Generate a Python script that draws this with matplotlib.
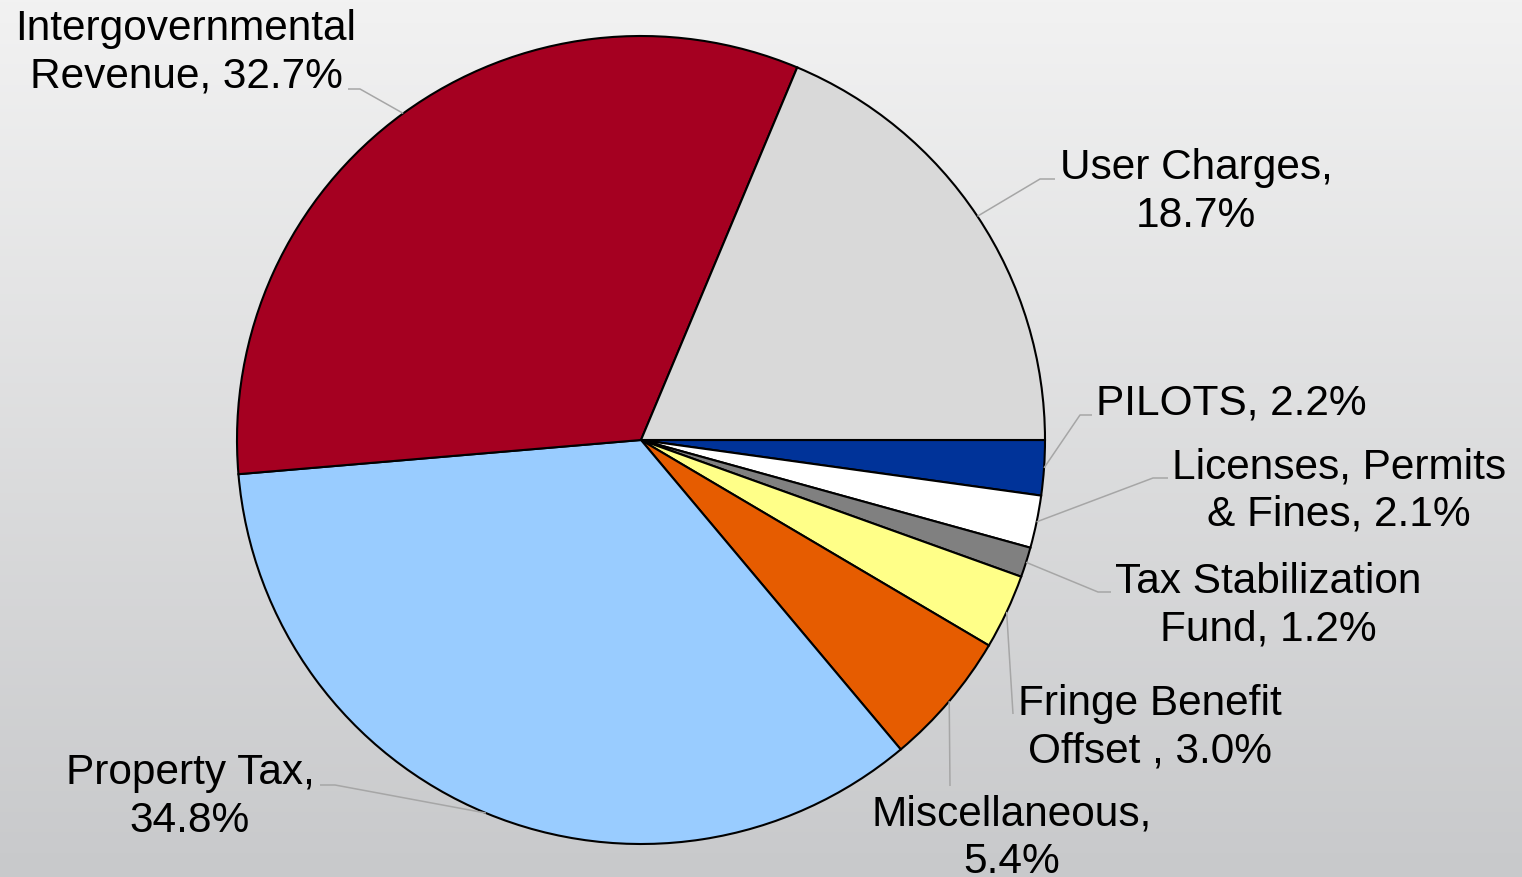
import numpy as np
import matplotlib
matplotlib.use("Agg")
import matplotlib.pyplot as plt

# ---- data ----
categories = ["PILOTS", "Licenses, Permits & Fines", "Tax Stabilization Fund",
              "Fringe Benefit Offset", "Miscellaneous", "Property Tax",
              "Intergovernmental Revenue", "User Charges"]
values = [2.2, 2.1, 1.2, 3.0, 5.4, 34.8, 32.7, 18.7]
label_texts = ["PILOTS, 2.2%", "Licenses, Permits\n& Fines, 2.1%",
               "Tax Stabilization\nFund, 1.2%", "Fringe Benefit\nOffset , 3.0%",
               "Miscellaneous,\n5.4%", "Property Tax,\n34.8%",
               "Intergovernmental\nRevenue, 32.7%", "User Charges,\n18.7%"]
colors = ["#003399", "#FFFFFF", "#808080", "#FFFF88", "#E65C00",
          "#99CCFF", "#A50021", "#D9D9D9"]

# ---- layout (pixel coordinates, y from top) ----
W, H = 1522, 878
label_pos = [(1231, 404), (1339, 491), (1268, 606), (1150, 728),
             (1012, 838), (190, 797), (186, 53), (1196, 192)]
elbows = [[(1080, 416), (1092, 416)],
          [(1153, 479), (1168, 479)],
          [(1098, 593), (1111, 593)],
          [(1013, 715)],
          [(950, 787)],
          [(335, 786), (320, 786)],
          [(360, 90), (348, 90)],
          [(1040, 180), (1055, 180)]]
cx, cy, R = 641, 441, 404

def fy(y):
    return H - y

plt.rcParams['font.family'] = ['Liberation Sans', 'DejaVu Sans']
fig = plt.figure(figsize=(W / 100, H / 100), dpi=100)
ax = fig.add_axes([0, 0, 1, 1])

# background gradient
grad = np.linspace(0, 1, 256)[:, None]
top = np.array([242, 242, 242]) / 255
bot = np.array([200, 201, 203]) / 255
img = top[None, None, :] * (1 - grad[..., None]) + bot[None, None, :] * grad[..., None]
img = np.repeat(img, 2, axis=1)
ax.imshow(img, extent=[0, W, 0, H], aspect='auto', zorder=0, origin='upper')

wedges, _ = ax.pie(values, colors=colors, startangle=0, counterclock=False,
                   center=(cx, fy(cy)), radius=R,
                   wedgeprops=dict(edgecolor='black', linewidth=1.5, zorder=2))
for w in wedges:
    w.set_zorder(2)

for w, txt, pos, elb in zip(wedges, label_texts, label_pos, elbows):
    mid = np.deg2rad((w.theta1 + w.theta2) / 2)
    x0 = cx + R * np.cos(mid)
    y0 = fy(cy) + R * np.sin(mid)
    xs = [x0] + [p[0] for p in elb]
    ys = [y0] + [fy(p[1]) for p in elb]
    ax.plot(xs, ys, color='#A6A6A6', lw=1.1, zorder=3, solid_capstyle='butt')
    ax.text(pos[0], fy(pos[1]), txt, ha='center', va='center', fontsize=30.5,
            color='black', linespacing=1.25, zorder=4)

ax.set_xlim(0, W)
ax.set_ylim(0, H)
ax.set_aspect('auto')
ax.axis('off')
fig.savefig("out.png", dpi=100)
